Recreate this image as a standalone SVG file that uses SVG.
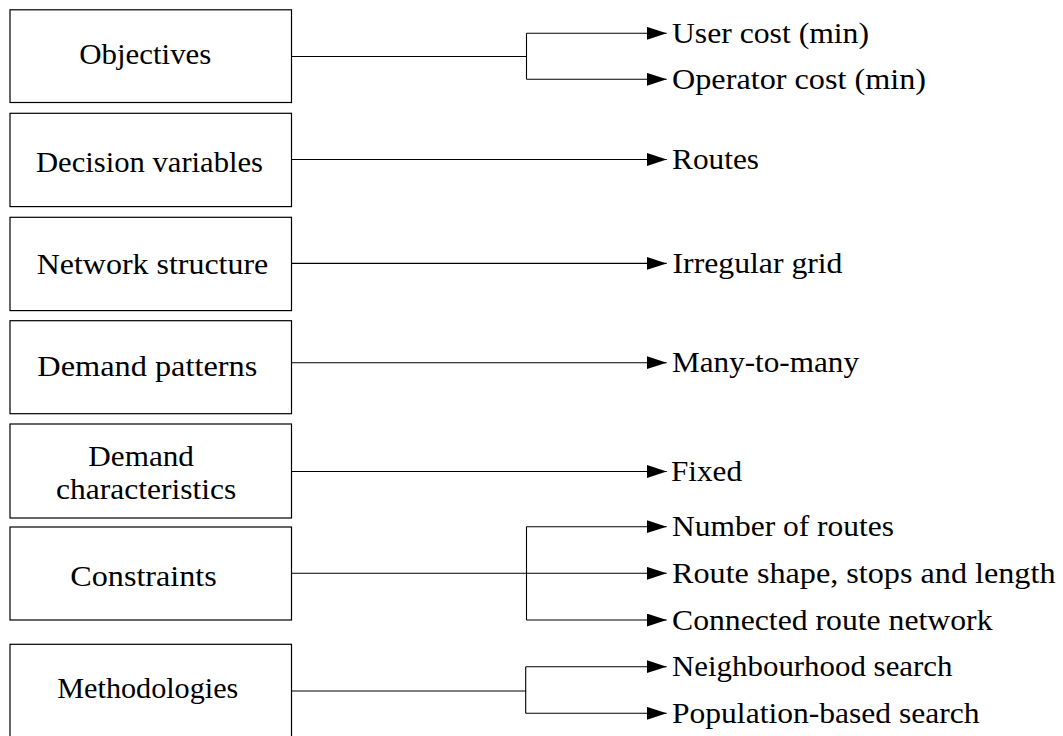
<svg xmlns="http://www.w3.org/2000/svg" width="1063" height="736" viewBox="0 0 1063 736">
<style>
.box{fill:#fff;stroke:#000;stroke-width:1.2}
.lbl{font-family:'Liberation Serif','Times New Roman',serif;font-size:30px;fill:#000}
.con{fill:none;stroke:#000;stroke-width:1.1}
</style>
<defs>
<marker id="ah" markerUnits="userSpaceOnUse" markerWidth="21" markerHeight="14" refX="20" refY="6.5" orient="auto">
<path d="M0,0 L20,6.5 L0,13 Z" fill="#000"/>
</marker>
</defs>
<rect width="1063" height="736" fill="#fff"/>
<g id="objectives">
<rect class="box" x="10" y="9.8" width="281.5" height="92.7"/>
<text class="lbl" x="79.3" y="64" textLength="132" lengthAdjust="spacingAndGlyphs">Objectives</text>
</g>
<g id="decision-variables">
<rect class="box" x="10" y="113.3" width="281.5" height="93.3"/>
<text class="lbl" x="36" y="172" textLength="227" lengthAdjust="spacingAndGlyphs">Decision variables</text>
</g>
<g id="network-structure">
<rect class="box" x="10" y="217.3" width="281.5" height="93.3"/>
<text class="lbl" x="36.7" y="274" textLength="231.6" lengthAdjust="spacingAndGlyphs">Network structure</text>
</g>
<g id="demand-patterns">
<rect class="box" x="10" y="320.7" width="281.5" height="93"/>
<text class="lbl" x="37.3" y="376" textLength="220" lengthAdjust="spacingAndGlyphs">Demand patterns</text>
</g>
<g id="demand-characteristics">
<rect class="box" x="10" y="424" width="281.5" height="94"/>
<text class="lbl" x="88.3" y="466" textLength="105.6" lengthAdjust="spacingAndGlyphs">Demand</text>
<text class="lbl" x="56" y="498.7" textLength="180.3" lengthAdjust="spacingAndGlyphs">characteristics</text>
</g>
<g id="constraints">
<rect class="box" x="10" y="527" width="281.5" height="93"/>
<text class="lbl" x="70.3" y="585.7" textLength="146.5" lengthAdjust="spacingAndGlyphs">Constraints</text>
</g>
<g id="methodologies">
<rect class="box" x="10" y="644.3" width="281.5" height="93"/>
<text class="lbl" x="57.3" y="698.3" textLength="181" lengthAdjust="spacingAndGlyphs">Methodologies</text>
</g>
<g id="connectors">
<path class="con" d="M291.5,56.5 H526.5 M526.5,33.3 V79.3"/>
<path class="con" d="M526.5,33.3 H666.7" marker-end="url(#ah)"/>
<path class="con" d="M526.5,79.3 H666.7" marker-end="url(#ah)"/>
<path class="con" d="M291.5,159.5 H666.7" marker-end="url(#ah)"/>
<path class="con" d="M291.5,263.4 H666.7" marker-end="url(#ah)"/>
<path class="con" d="M291.5,362.7 H666.7" marker-end="url(#ah)"/>
<path class="con" d="M291.5,471.5 H666.7" marker-end="url(#ah)"/>
<path class="con" d="M526.5,526.7 V620"/>
<path class="con" d="M526.5,526.7 H666.7" marker-end="url(#ah)"/>
<path class="con" d="M291.5,573.3 H666.7" marker-end="url(#ah)"/>
<path class="con" d="M526.5,620 H666.7" marker-end="url(#ah)"/>
<path class="con" d="M291.5,691 H525.7 M525.7,666.7 V713.3"/>
<path class="con" d="M525.7,666.7 H666.7" marker-end="url(#ah)"/>
<path class="con" d="M525.7,713.3 H666.7" marker-end="url(#ah)"/>
</g>
<g id="labels">
<text class="lbl" x="672" y="42.8" textLength="197" lengthAdjust="spacingAndGlyphs">User cost (min)</text>
<text class="lbl" x="672" y="88.8" textLength="254" lengthAdjust="spacingAndGlyphs">Operator cost (min)</text>
<text class="lbl" x="672" y="169" textLength="87" lengthAdjust="spacingAndGlyphs">Routes</text>
<text class="lbl" x="672.5" y="272.9" textLength="170" lengthAdjust="spacingAndGlyphs">Irregular grid</text>
<text class="lbl" x="672" y="372.2" textLength="187" lengthAdjust="spacingAndGlyphs">Many-to-many</text>
<text class="lbl" x="671" y="481" textLength="71" lengthAdjust="spacingAndGlyphs">Fixed</text>
<text class="lbl" x="672" y="536.2" textLength="222" lengthAdjust="spacingAndGlyphs">Number of routes</text>
<text class="lbl" x="672" y="582.8" textLength="383.5" lengthAdjust="spacingAndGlyphs">Route shape, stops and length</text>
<text class="lbl" x="672" y="629.5" textLength="320.5" lengthAdjust="spacingAndGlyphs">Connected route network</text>
<text class="lbl" x="672" y="676.2" textLength="280.5" lengthAdjust="spacingAndGlyphs">Neighbourhood search</text>
<text class="lbl" x="672" y="722.8" textLength="307.5" lengthAdjust="spacingAndGlyphs">Population-based search</text>
</g>
</svg>
